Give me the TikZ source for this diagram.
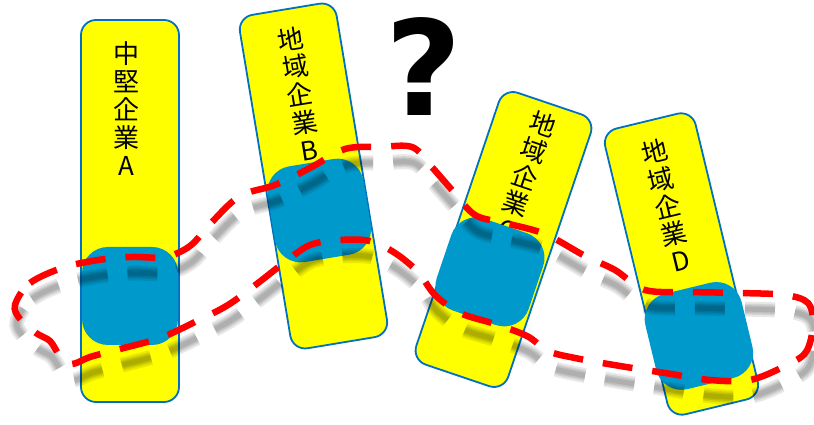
\documentclass[tikz,border=0pt]{standalone}
\usepackage{fontspec}
\setmainfont{Liberation Sans}
\newfontfamily\jp{Noto Sans CJK JP}
\newfontfamily\qfont{DejaVu Sans}
\definecolor{boxyellow}{HTML}{FFFF00}
\definecolor{boxline}{HTML}{0070C0}
\definecolor{blueblk}{HTML}{0099CC}
\definecolor{loopred}{HTML}{FF0000}
\newcommand\redloop{plot[smooth cycle, tension=0.55] coordinates {
 (15,120) (30,142) (65,158) (105,166) (133,168) (165,168) (190,179) (212,203) (240,229)
 (275,240) (310,257) (345,276) (380,278) (412,278) (430,260) (452,235) (475,210)
 (505,202) (545,191) (585,169) (615,155) (645,135) (690,133) (740,132) (785,130)
 (808,122) (813,100) (806,73) (785,59) (750,45) (710,45) (665,52) (620,59) (575,67)
 (548,74) (527,89) (495,101) (460,112) (435,130) (418,153) (395,172) (370,184)
 (340,185) (310,180) (285,163) (258,142) (228,120) (195,103) (160,87) (120,76)
 (90,68) (72,61) (60,69) (50,84) (36,92) (20,106)}}
\begin{document}
\begin{tikzpicture}[x=1pt,y=1pt,
 firm/.style={draw=boxline, fill=boxyellow, line width=1.8pt, rounded corners=15pt, inner sep=0pt},
 blk/.style={fill=blueblk, rounded corners=26pt, inner sep=0pt},
 lbl/.style={font=\jp\fontsize{26}{28}\selectfont, align=center, inner sep=0pt},
 redline/.style={draw=loopred, line width=6.5pt, dash pattern=on 30pt off 20pt},
 shadowline/.style={draw=black, opacity=0.09, dash pattern=on 30pt off 20pt}]
\useasboundingbox (0,0) rectangle (814,425);

% firm A
\begin{scope}[shift={(130,214)}, transform shape]
 \node[firm, minimum width=98pt, minimum height=382pt] (boxA) at (0,0) {};
 \node[lbl] (txtA) at (-4,102.5) {中\\堅\\企\\業\\A};
 \node[blk, minimum width=96pt, minimum height=98pt] (blkA) at (0,-85) {};
\end{scope}
% firm B
\begin{scope}[shift={(313.5,249)}, rotate=9.4, transform shape]
 \node[firm, minimum width=98pt, minimum height=338pt] (boxB) at (0,0) {};
 \node[lbl] (txtB) at (0,83.5) {地\\域\\企\\業\\B};
 \node[blk, minimum width=97pt, minimum height=97pt] (blkB) at (0,-35) {};
\end{scope}
% firm C
\begin{scope}[shift={(503.5,185.5)}, rotate=-18.7, transform shape]
 \node[firm, minimum width=97pt, minimum height=287pt] (boxC) at (0,0) {};
 \node[lbl] (txtC) at (0,67) {地\\域\\企\\業\\C};
 \node[blk, minimum width=97pt, minimum height=97pt] (blkC) at (-2.4,-35) {};
\end{scope}
% firm D
\begin{scope}[shift={(681.5,161)}, rotate=13.6, transform shape]
 \node[firm, minimum width=93pt, minimum height=294pt] (boxD) at (0,0) {};
 \node[lbl] (txtD) at (0,60) {地\\域\\企\\業\\D};
 \node[blk, minimum width=99pt, minimum height=98pt] (blkD) at (0,-74) {};
\end{scope}

% question mark
\node[font=\qfont\bfseries\fontsize{132}{132}\selectfont, inner sep=0pt] (qmark) at (423.5,358) {?};

% soft shadow of the loop
\begin{scope}[shift={(2,-16)}]
 \draw[shadowline, line width=15pt] \redloop;
 \draw[shadowline, line width=11pt] \redloop;
 \draw[shadowline, line width=8pt] \redloop;
 \draw[shadowline, line width=5pt] \redloop;
\end{scope}
% red dashed loop
\draw[redline] \redloop;
\end{tikzpicture}
\end{document}
